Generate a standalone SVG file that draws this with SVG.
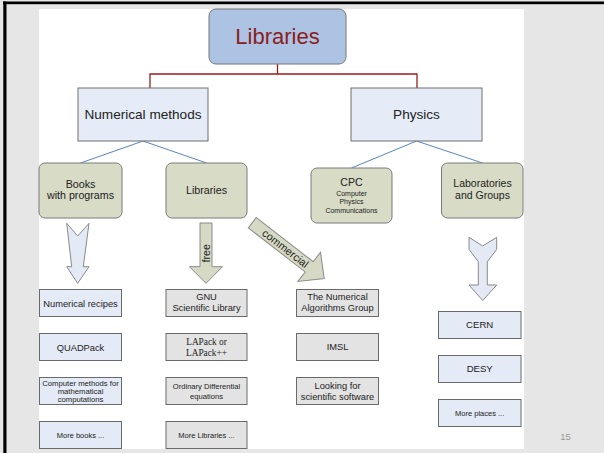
<svg xmlns="http://www.w3.org/2000/svg" width="604" height="453" viewBox="0 0 604 453">
<style>
text{font-family:"Liberation Sans",Arial,sans-serif;fill:#222;text-anchor:middle}
.serif{font-family:"Liberation Serif","Times New Roman",serif}
.lvl2{fill:#e6ecf7;stroke:#6f6f6f;stroke-width:1}
.olive{fill:#d8dbc6;stroke:#7a7a7a;stroke-width:1}
.blue{fill:#e4eaf6;stroke:#6a6a6a;stroke-width:1}
.grey{fill:#e3e3e3;stroke:#6a6a6a;stroke-width:1}
.arrowB{fill:#e3eaf6;stroke:#8a8a8a;stroke-width:1}
.arrowO{fill:#d6dac4;stroke:#8a8a8a;stroke-width:1}
.red{fill:none;stroke:#9b1c1c;stroke-width:1.3}
.bl{fill:none;stroke:#5585c0;stroke-width:1}
</style>
<rect x="0" y="0" width="604" height="453" fill="#e6e6e6"/>
<rect x="3" y="1.5" width="601" height="2.7" fill="#000"/>
<rect x="3.3" y="1.5" width="3.2" height="451.5" fill="#000"/>
<rect x="39" y="9" width="485" height="440" fill="#fff"/>
<text x="565.5" y="439.5" font-size="9.5" style="fill:#999">15</text>

<g id="connectors">
<polyline class="red" points="150,88 150,74 417,74 417,88"/>
<line class="red" x1="277.5" y1="64" x2="277.5" y2="74"/>
<line class="bl" x1="143" y1="141" x2="80.5" y2="163"/>
<line class="bl" x1="143" y1="141" x2="206.5" y2="163"/>
<line class="bl" x1="416.5" y1="141" x2="351.5" y2="168"/>
<line class="bl" x1="416.5" y1="141" x2="482.5" y2="163"/>
</g>

<g id="arrows">
<polygon class="arrowB" points="66.7,223.3 77.7,236 89,223.3 83.3,266.7 89,266.7 77.7,283.3 66.7,266.7 71.7,266.7"/>
<g id="arrow-free">
<polygon class="arrowO" points="200,223 212,223 212,266.7 222.5,266.7 206,283.3 189.5,266.7 200,266.7"/>
<text transform="translate(209.8,253.3) rotate(-90)" font-size="10.8">free</text>
</g>
<g id="arrow-commercial" transform="translate(252.3,222.7) rotate(37.8)">
<polygon class="arrowO" points="0,-6.5 72,-6.5 72,-18.5 91,0 72,18.5 72,6.5 0,6.5"/>
<text x="42" y="3.8" font-size="10.8">commercial</text>
</g>
<polygon class="arrowB" points="469,237.3 482.7,246 496.7,237.3 496.7,249.3 487.3,261.7 487.3,285 496.7,285 482.7,300.5 469,285 478.3,285 478.3,261.7 469,249.3"/>
</g>

<g id="libraries-root">
<rect x="209" y="9" width="137" height="55" rx="7" fill="#adc3e3" stroke="#777" stroke-width="1"/>
<text x="277.5" y="44" font-size="22" style="fill:#8b1c1c">Libraries</text>
</g>
<g id="numerical-methods">
<rect class="lvl2" x="78" y="88" width="130" height="53"/>
<text x="143" y="118.5" font-size="13.6">Numerical methods</text>
</g>
<g id="physics">
<rect class="lvl2" x="351" y="88" width="131" height="53"/>
<text x="416.5" y="118.5" font-size="13.6">Physics</text>
</g>

<g id="books">
<rect class="olive" x="39" y="163" width="83" height="55" rx="6"/>
<text x="80.5" y="187.5" font-size="10.7">Books</text>
<text x="80.5" y="198.5" font-size="10.7">with programs</text>
</g>
<g id="libraries-sub">
<rect class="olive" x="166" y="163" width="81" height="55" rx="6"/>
<text x="206.5" y="194" font-size="10.7">Libraries</text>
</g>
<g id="cpc">
<rect class="olive" x="311" y="168" width="81" height="55" rx="6"/>
<text x="351.5" y="185.5" font-size="10.6">CPC</text>
<text x="351.5" y="195.5" font-size="7">Computer</text>
<text x="351.5" y="204.3" font-size="7">Physics</text>
<text x="351.5" y="213" font-size="7">Communications</text>
</g>
<g id="laboratories">
<rect class="olive" x="441.5" y="163" width="81.5" height="55" rx="6"/>
<text x="482.5" y="187" font-size="10.5">Laboratories</text>
<text x="482.5" y="199" font-size="10.5">and Groups</text>
</g>

<g id="numerical-recipes">
<rect class="blue" x="39.5" y="289.5" width="82" height="27"/>
<text x="80.5" y="306.5" font-size="9.3">Numerical recipes</text>
</g>
<g id="quadpack">
<rect class="blue" x="39.5" y="333.5" width="82" height="27"/>
<text x="80.5" y="350.5" font-size="9.3">QUADPack</text>
</g>
<g id="computer-methods">
<rect class="blue" x="39.5" y="377.5" width="82" height="27"/>
<text x="80.5" y="386" font-size="7.7">Computer methods for</text>
<text x="80.5" y="393.8" font-size="7.7">mathematical</text>
<text x="80.5" y="401.6" font-size="7.7">computations</text>
</g>
<g id="more-books">
<rect class="blue" x="39.5" y="421.5" width="82" height="27"/>
<text x="80.5" y="438" font-size="7.5">More books ...</text>
</g>

<g id="gnu">
<rect class="grey" x="166" y="289.5" width="81" height="27"/>
<text x="206.5" y="300" font-size="9.3">GNU</text>
<text x="206.5" y="310.5" font-size="9.3">Scientific Library</text>
</g>
<g id="lapack">
<rect class="grey" x="166" y="333.5" width="81" height="27"/>
<text class="serif" x="206.5" y="345" font-size="9.3">LAPack or</text>
<text class="serif" x="206.5" y="355.5" font-size="9.3">LAPack++</text>
</g>
<g id="ode">
<rect class="grey" x="166" y="377.5" width="81" height="27"/>
<text x="206.5" y="389" font-size="7.6">Ordinary Differential</text>
<text x="206.5" y="399" font-size="7.6">equations</text>
</g>
<g id="more-libraries">
<rect class="grey" x="166" y="421.5" width="81" height="27"/>
<text x="206.5" y="438" font-size="7.5">More Libraries ...</text>
</g>

<g id="nag">
<rect class="grey" x="296.5" y="289.5" width="82" height="27"/>
<text x="337.5" y="300" font-size="9.3">The Numerical</text>
<text x="337.5" y="310.5" font-size="9.3">Algorithms Group</text>
</g>
<g id="imsl">
<rect class="grey" x="296.5" y="333.5" width="82" height="27"/>
<text x="337.5" y="350" font-size="9.3">IMSL</text>
</g>
<g id="looking-for">
<rect class="grey" x="296.5" y="377.5" width="82" height="27"/>
<text x="337.5" y="388.5" font-size="9.3">Looking for</text>
<text x="337.5" y="399.5" font-size="9.3">scientific software</text>
</g>

<g id="cern">
<rect class="blue" x="438.5" y="311.5" width="82.5" height="27"/>
<text x="479.7" y="328" font-size="9.6">CERN</text>
</g>
<g id="desy">
<rect class="blue" x="438.5" y="355.5" width="82.5" height="27"/>
<text x="479.7" y="372" font-size="9.6">DESY</text>
</g>
<g id="more-places">
<rect class="blue" x="438.5" y="399.5" width="82.5" height="27"/>
<text x="479.7" y="415.5" font-size="7.5">More places ...</text>
</g>
</svg>
